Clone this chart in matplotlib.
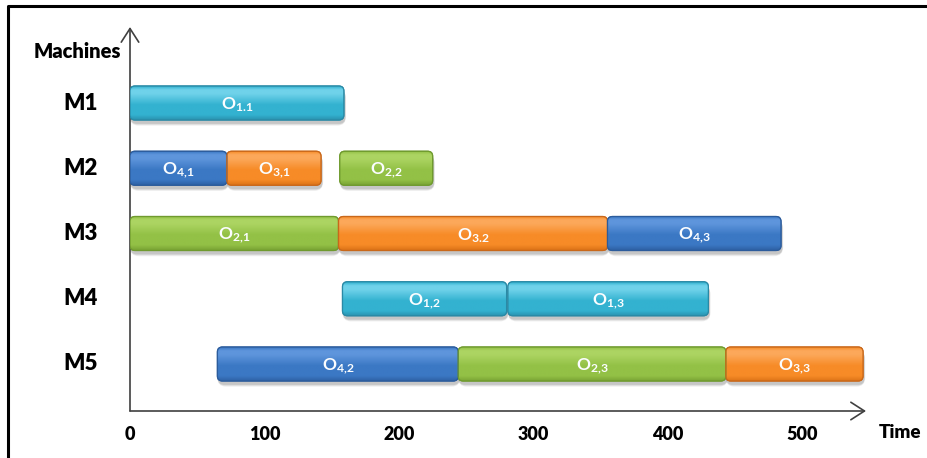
import matplotlib
matplotlib.use("Agg")
import matplotlib.pyplot as plt
import numpy as np
from matplotlib import transforms
from matplotlib.patches import FancyBboxPatch
from matplotlib.lines import Line2D
from matplotlib.colors import to_rgb

plt.rcParams['font.family'] = ['Lato', 'DejaVu Sans']
plt.rcParams['mathtext.fontset'] = 'custom'
plt.rcParams['mathtext.rm'] = 'Lato:bold'
plt.rcParams['mathtext.it'] = 'Lato:italic'
plt.rcParams['mathtext.bf'] = 'Lato:bold'

# ---- schedule data ----
machines = ['M1', 'M2', 'M3', 'M4', 'M5']
op_machine = [0, 1, 1, 1, 2, 2, 2, 3, 3, 4, 4, 4]
op_label = ['1.1', '4,1', '3,1', '2,2', '2,1', '3.2', '4,3', '1,2', '1,3', '4,2', '2,3', '3,3']
op_start = [0, 0, 72, 156, 0, 155, 355, 158, 281, 65, 244, 443]
op_end = [159, 72, 142, 225, 155, 355, 484, 280, 430, 244, 443, 545]
op_job = [1, 4, 3, 2, 2, 3, 4, 1, 1, 4, 2, 3]
time_ticks = [0, 100, 200, 300, 400, 500]

# job colours: (top highlight, body, bottom shade, outline)
job_colors = {
    1: ('#6fd2ea', '#33b2d0', '#2a93b0', '#2a8aa6'),
    2: ('#acd462', '#93c146', '#7ba535', '#6f9a2e'),
    3: ('#fca85a', '#f78b27', '#dd7418', '#c9681a'),
    4: ('#5e95dc', '#3b78c4', '#2f62a6', '#2c5c9c'),
}

W, H = 928, 458
fig = plt.figure(figsize=(W / 100, H / 100), dpi=100)

# axes placed so the time origin sits on the vertical axis line
x0_px, x1_px = 130, 866
ybot_px, ytop_px = 411, 27
px_per_unit = 1.345
row0_px, row_step = 103, 65.25
ax = fig.add_axes([x0_px / W, 1 - ybot_px / H,
                   (x1_px - x0_px) / W, (ybot_px - ytop_px) / H])
xmax = (x1_px - x0_px) / px_per_unit
ylo = (ybot_px - row0_px) / row_step
yhi = (ytop_px - row0_px) / row_step
ax.set_xlim(0, xmax)
ax.set_ylim(ylo, yhi)
for s in ax.spines.values():
    s.set_visible(False)
ax.set_yticks([])
ax.set_xticks(time_ticks)
ax.set_xticklabels([str(t) for t in time_ticks], fontsize=13, fontweight='heavy')
ax.tick_params(axis='x', length=0, pad=11)
ax.patch.set_alpha(0)

# axis arrows
arrow_kw = dict(arrowstyle='->,head_length=0.7,head_width=0.45', lw=1.2,
                color='#404040', mutation_scale=14, shrinkA=0, shrinkB=0)
ax.annotate('', xy=(0, 1), xytext=(0, 0), xycoords='axes fraction',
            textcoords='axes fraction', arrowprops=arrow_kw)
ax.annotate('', xy=(1, 0), xytext=(0, 0), xycoords='axes fraction',
            textcoords='axes fraction', arrowprops=arrow_kw)

bar_h = 0.52
r_units = 5 / px_per_unit
m_aspect = px_per_unit / row_step


def gradient(top, body, bottom, n=64):
    t = np.linspace(0, 1, n)
    stops = [0.0, 0.10, 0.22, 0.55, 0.85, 1.0]
    cols = [to_rgb(body), to_rgb(top), to_rgb(top), to_rgb(body),
            to_rgb(body), to_rgb(bottom)]
    cols = np.array(cols)
    g = np.stack([np.interp(t, stops, cols[:, k]) for k in range(3)], axis=1)
    return g[:, None, :]


for m, lab, s, e, j in zip(op_machine, op_label, op_start, op_end, op_job):
    top, body, bottom, edge = job_colors[j]
    yc = m
    y0 = yc - bar_h / 2
    # soft drop shadow
    for k, a in [(3, 0.06), (2, 0.08), (1, 0.10)]:
        dy = (3 + k * 0.6) / row_step
        sh = FancyBboxPatch((s + 1 / px_per_unit - k * 0.3, y0 + dy - k * 0.005),
                            e - s + k * 0.6, bar_h + k * 0.01,
                            boxstyle=f"round,pad=0,rounding_size={r_units + k}",
                            mutation_aspect=m_aspect, fc='#000000', ec='none',
                            alpha=a, zorder=1)
        ax.add_patch(sh)
    patch = FancyBboxPatch((s, y0), e - s, bar_h,
                           boxstyle=f"round,pad=0,rounding_size={r_units}",
                           mutation_aspect=m_aspect, fc=body, ec=edge, lw=0.9,
                           zorder=2)
    ax.add_patch(patch)
    im = ax.imshow(gradient(top, body, bottom), extent=(s, e, y0 + bar_h, y0),
                   origin='upper', aspect='auto', interpolation='bilinear',
                   zorder=3)
    im.set_clip_path(patch)
    outline = FancyBboxPatch((s, y0), e - s, bar_h,
                             boxstyle=f"round,pad=0,rounding_size={r_units}",
                             mutation_aspect=m_aspect, fc='none', ec=edge,
                             lw=0.9, zorder=4)
    ax.add_patch(outline)
    ax.text((s + e) / 2, yc + 0.03, r'$\mathrm{O}_{' + lab.replace(',', '{,}') + '}$',
            ha='center', va='center', color='#fbfdff', fontsize=12.5, zorder=5)

ax.set_xlim(0, xmax)
ax.set_ylim(ylo, yhi)

# machine labels on the left
trans = transforms.blended_transform_factory(fig.transFigure, ax.transData)
for i, name in enumerate(machines):
    ax.text(81 / W, i, name, transform=trans, ha='center', va='center',
            fontsize=16, fontweight='heavy', clip_on=False)

fig.text(77 / W, 1 - 51 / H, 'Machines', ha='center', va='center',
         fontsize=14.5, fontweight='heavy')
fig.text(900 / W, 1 - 432 / H, 'Time', ha='center', va='center',
         fontsize=13.5, fontweight='heavy')

# outer frame (left and top edges)
fig.add_artist(Line2D([7.5 / W, 7.5 / W, 1.0], [0.0, 1 - 5.5 / H, 1 - 5.5 / H],
                      transform=fig.transFigure, color='black', lw=2.2))

fig.savefig('out.png', dpi=100)
